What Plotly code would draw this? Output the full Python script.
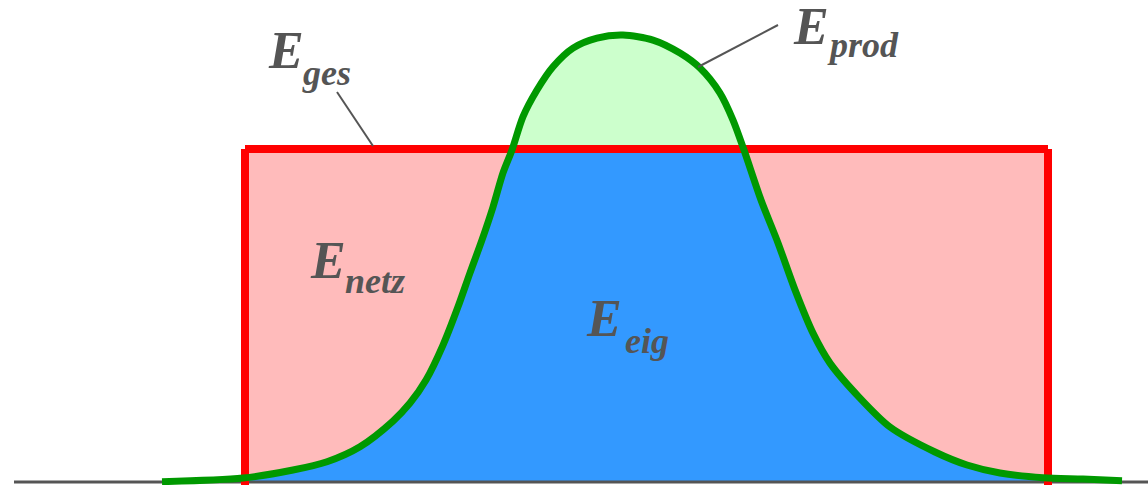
import plotly.graph_objects as go

# ---------------- data ----------------
# production curve (time units along x, power relative to grid level = 1)
t_curve = [162, 243, 293, 327, 360, 393, 410, 426, 443, 458, 470, 482, 493, 503,
           512, 523, 537, 553, 573, 597, 623, 653, 680, 700, 720, 733, 744, 761,
           778, 795, 813, 830, 859, 890, 935, 967, 1000, 1043, 1083, 1122]
p_prod = [0.001, 0.012, 0.036, 0.061, 0.106, 0.183, 0.237, 0.306, 0.411, 0.526,
          0.628, 0.727, 0.826, 0.928, 0.997, 1.097, 1.177, 1.247, 1.303, 1.333,
          1.342, 1.327, 1.288, 1.243, 1.168, 1.087, 0.997, 0.847, 0.718, 0.577,
          0.447, 0.357, 0.255, 0.165, 0.090, 0.051, 0.027, 0.013, 0.009, 0.004]
# total demand block
t_ges = [245, 1048]
p_ges = 1.0
# time axis extent
t_axis = [14, 1148]

label_main = ["E", "E", "E", "E"]
label_sub = ["ges", "prod", "netz", "eig"]

# ---------------- layout helpers ----------------
W, H = 1148, 485
PX_PER_UNIT = 333.0
BASE_PX = 482.0
Y_BOTTOM = -(H - BASE_PX) / PX_PER_UNIT
Y_TOP = BASE_PX / PX_PER_UNIT


def yd(py):
    return (BASE_PX - py) / PX_PER_UNIT


TEXT_COLOR = "#555555"
FONT = "Liberation Serif"
SMOOTH = 0.8

fig = go.Figure()

# subplot 1: pink demand block + light green production area
fig.add_trace(go.Scatter(
    x=[t_ges[0], t_ges[1], t_ges[1], t_ges[0], t_ges[0]],
    y=[0, 0, p_ges, p_ges, 0],
    mode="lines", fill="toself", fillcolor="#FFBBBB",
    line=dict(width=0), hoverinfo="skip", xaxis="x", yaxis="y"))
fig.add_trace(go.Scatter(
    x=t_curve, y=p_prod, mode="lines", fill="tozeroy", fillcolor="#CCFFCC",
    line=dict(width=0, shape="spline", smoothing=SMOOTH), hoverinfo="skip",
    xaxis="x", yaxis="y"))

# subplot 2: self-consumption (clipped to the demand block)
fig.add_trace(go.Scatter(
    x=t_curve, y=p_prod, mode="lines", fill="tozeroy", fillcolor="#3399FF",
    line=dict(width=0, shape="spline", smoothing=SMOOTH), hoverinfo="skip",
    xaxis="x2", yaxis="y2"))

# subplot 3: outlines
fig.add_trace(go.Scatter(
    x=t_axis, y=[0, 0], mode="lines",
    line=dict(color="#555555", width=3), hoverinfo="skip",
    xaxis="x3", yaxis="y3"))
fig.add_trace(go.Scatter(
    x=[t_ges[0], t_ges[0], None, t_ges[0], t_ges[1], None, t_ges[1], t_ges[1]],
    y=[Y_BOTTOM, p_ges, None, p_ges, p_ges, None, p_ges, Y_BOTTOM],
    mode="lines", connectgaps=False,
    line=dict(color="#FF0000", width=8), hoverinfo="skip",
    xaxis="x3", yaxis="y3"))
fig.add_trace(go.Scatter(
    x=t_curve, y=p_prod, mode="lines",
    line=dict(color="#009900", width=7, shape="spline", smoothing=SMOOTH),
    hoverinfo="skip", xaxis="x3", yaxis="y3"))

# leader lines
for (x0, y0, x1, y1) in [(337, 92, 373, 146), (778, 25, 698, 67)]:
    fig.add_shape(type="line", xref="x3", yref="y3",
                  x0=x0, y0=yd(y0), x1=x1, y1=yd(y1),
                  line=dict(color="#555555", width=2))

# labels: (main left px, main centre py, sub left px, sub centre py)
label_pos = [(267, 50, 301, 73), (792, 26, 826, 45),
             (309, 260, 344, 281), (585, 318, 624, 341)]
for main, sub, (mx, my, sx, sy) in zip(label_main, label_sub, label_pos):
    fig.add_annotation(x=mx, y=yd(my), xref="x3", yref="y3", text=main,
                       showarrow=False, xanchor="left", yanchor="middle",
                       borderpad=0,
                       font=dict(family=FONT, size=52, color=TEXT_COLOR,
                                 weight="bold", style="italic"))
    fig.add_annotation(x=sx, y=yd(sy), xref="x3", yref="y3", text=sub,
                       showarrow=False, xanchor="left", yanchor="middle",
                       borderpad=0,
                       font=dict(family=FONT, size=36, color=TEXT_COLOR,
                                 weight="bold", style="italic"))

axis_common = dict(visible=False, showgrid=False, zeroline=False, fixedrange=True)
fig.update_layout(
    width=W, height=H,
    margin=dict(l=0, r=0, t=0, b=0, pad=0),
    paper_bgcolor="white", plot_bgcolor="rgba(0,0,0,0)",
    showlegend=False,
    xaxis=dict(domain=[0, 1], range=[0, W], anchor="y", **axis_common),
    yaxis=dict(domain=[0, 1], range=[Y_BOTTOM, Y_TOP], anchor="x", **axis_common),
    xaxis2=dict(domain=[t_ges[0] / W, t_ges[1] / W], range=t_ges, anchor="y2",
                **axis_common),
    yaxis2=dict(domain=[(H - BASE_PX) / H, (H - BASE_PX + PX_PER_UNIT * p_ges) / H],
                range=[0, p_ges], anchor="x2", **axis_common),
    xaxis3=dict(domain=[0, 1], range=[0, W], anchor="y3", **axis_common),
    yaxis3=dict(domain=[0, 1], range=[Y_BOTTOM, Y_TOP], anchor="x3", **axis_common),
)

fig.write_html(
    "out.html",
    config={"displayModeBar": False},
    post_script="document.body.style.margin='0';document.body.style.overflow='hidden';",
)
